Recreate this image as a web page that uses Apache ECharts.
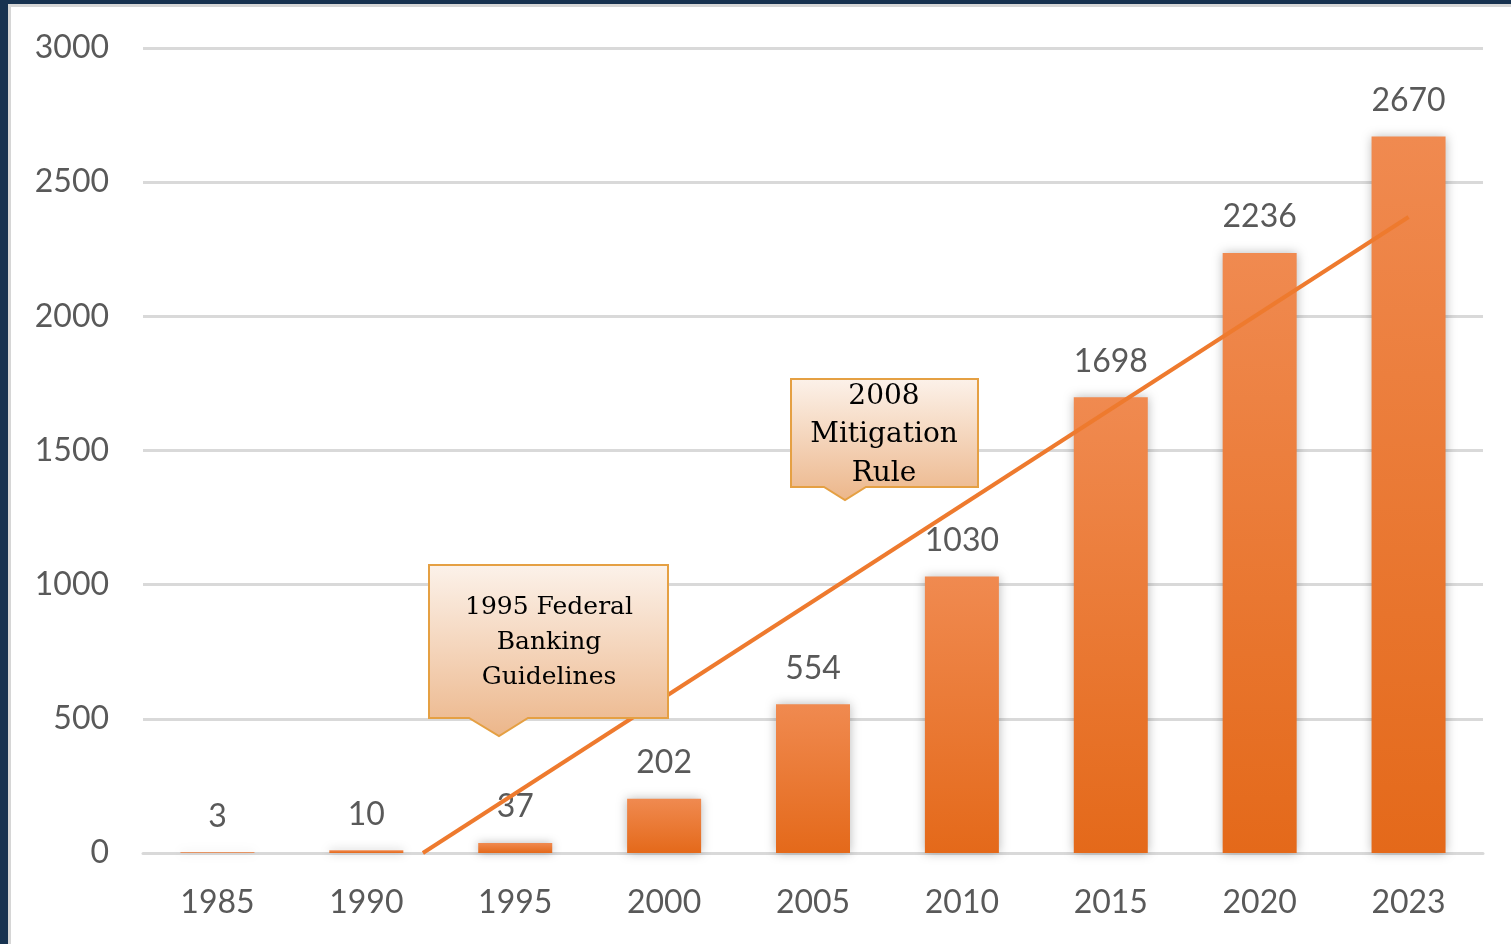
<!DOCTYPE html>
<html>
<head>
<meta charset="utf-8">
<script src="https://cdn.jsdelivr.net/npm/echarts@6/dist/echarts.min.js"></script>
<style>
  html, body { margin: 0; padding: 0; width: 1511px; height: 944px; overflow: hidden; }
  body { background: #173250; position: relative; }
  #panel { position: absolute; left: 8px; top: 4px; width: 1503px; height: 940px; background: #ffffff;
           box-sizing: border-box; border-left: 3px solid #d6d6d6; border-top: 3px solid #d6d6d6; }
  #chart { position: absolute; left: 0; top: 0; width: 1511px; height: 944px; }
</style>
</head>
<body>
<div id="panel"></div>
<div id="chart"></div>
<script>
// ---- data ----
const years = ['1985', '1990', '1995', '2000', '2005', '2010', '2015', '2020', '2023'];
const counts = [3, 10, 37, 202, 554, 1030, 1698, 2236, 2670];
// linear trendline endpoints: [category index, value]
const trendStart = [1.38, 0];
const trendEnd = [8, 2370];
const yTicks = [0, 500, 1000, 1500, 2000, 2500, 3000];
const callout1Lines = ['1995 Federal', 'Banking', 'Guidelines'];
const callout2Lines = ['2008', 'Mitigation', 'Rule'];

const chart = echarts.init(document.getElementById('chart'), null, { renderer: 'canvas' });

const labelColor = '#595959';
const fontFam = 'Lato, "Open Sans", sans-serif';

function calloutFill() {
  return new echarts.graphic.LinearGradient(0, 0, 0, 1, [
    { offset: 0, color: '#fcf2ea' },
    { offset: 1, color: '#ecb68a' }
  ]);
}

const option = {
  backgroundColor: 'transparent',
  animation: false,
  grid: { left: 143, right: 28, top: 48, bottom: 91, containLabel: false },
  xAxis: [
    {
      type: 'category',
      data: years,
      boundaryGap: true,
      axisLine: { show: true, lineStyle: { color: '#d9d9d9', width: 3 } },
      axisTick: { show: false },
      axisLabel: { color: labelColor, fontSize: 32, fontFamily: fontFam, margin: 34 }
    },
    {
      type: 'value',
      min: -0.5, max: 8.5,
      show: false
    }
  ],
  yAxis: {
    type: 'value',
    min: yTicks[0],
    max: yTicks[yTicks.length - 1],
    interval: 500,
    axisLine: { show: false },
    axisTick: { show: false },
    axisLabel: { color: labelColor, fontSize: 32, fontFamily: fontFam, margin: 34,
                 formatter: function (v) { return String(v); } },
    splitLine: { lineStyle: { color: '#d9d9d9', width: 3 } }
  },
  series: [
    {
      type: 'bar',
      data: counts,
      barWidth: 74,
      itemStyle: {
        color: new echarts.graphic.LinearGradient(0, 0, 0, 1, [
          { offset: 0, color: '#f08a50' },
          { offset: 1, color: '#e4691a' }
        ]),
        shadowBlur: 10,
        shadowColor: 'rgba(0,0,0,0.28)'
      },
      label: {
        show: true,
        position: 'top',
        distance: 20,
        color: labelColor,
        fontSize: 32,
        fontFamily: fontFam
      },
      z: 2
    },
    {
      type: 'line',
      xAxisIndex: 1,
      data: [trendStart, trendEnd],
      symbol: 'none',
      lineStyle: { color: '#ee7a2e', width: 4 },
      z: 3,
      silent: true
    }
  ],
  graphic: [
    {
      type: 'polygon',
      z: 100,
      shape: { points: [[429, 565], [668, 565], [668, 718], [528, 718], [499, 736], [469, 718], [429, 718]] },
      style: { fill: calloutFill(), stroke: '#e5a043', lineWidth: 2 }
    },
    {
      type: 'text',
      z: 101,
      x: 549, y: 590,
      style: {
        text: callout1Lines.join('\n'),
        textAlign: 'center',
        textVerticalAlign: 'top',
        font: '25px "DejaVu Serif", serif',
        fill: '#000000',
        lineHeight: 35
      }
    },
    {
      type: 'polygon',
      z: 100,
      shape: { points: [[791, 379], [978, 379], [978, 487], [866, 487], [845, 500], [824, 487], [791, 487]] },
      style: { fill: calloutFill(), stroke: '#e5a043', lineWidth: 2 }
    },
    {
      type: 'text',
      z: 101,
      x: 884, y: 377,
      style: {
        text: callout2Lines.join('\n'),
        textAlign: 'center',
        textVerticalAlign: 'top',
        font: '28px "DejaVu Serif", serif',
        fill: '#000000',
        lineHeight: 38.5
      }
    }
  ]
};

chart.setOption(option);
</script>
</body>
</html>
